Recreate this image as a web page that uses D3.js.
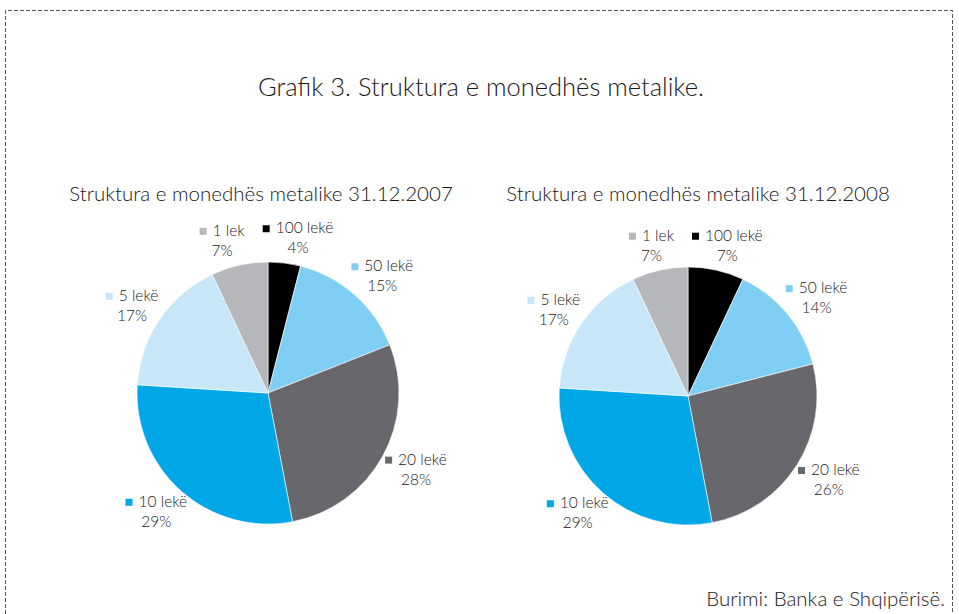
<!DOCTYPE html>
<meta charset="utf-8">
<style>
body { margin: 0; background: #fff; }
text { font-family: "Futura", "Century Gothic", Lato, sans-serif; font-weight: 300; fill: #1a1718; }
</style>
<svg id="chart" width="959" height="614"></svg>
<script src="https://cdn.jsdelivr.net/npm/d3@7"></script>
<script>
// data
var categories = ["100 lekë", "50 lekë", "20 lekë", "10 lekë", "5 lekë", "1 lek"];
var values2007 = [4, 15, 28, 29, 17, 7];
var values2008 = [7, 14, 26, 29, 17, 7];
var subtitles = ["Struktura e monedhës metalike 31.12.2007", "Struktura e monedhës metalike 31.12.2008"];
var colors = ["#000000", "#7fcff4", "#68676c", "#00a7e7", "#c7e7f8", "#b6b7ba"];

var svg = d3.select("#chart");

// dashed frame, bottom runs off the page
svg.append("path")
  .attr("d", "M5.5,620 V10.5 H952.5 V620")
  .attr("fill", "none")
  .attr("stroke", "#555")
  .attr("stroke-width", 1)
  .attr("stroke-dasharray", "4,2");

svg.append("text")
  .attr("x", 481).attr("y", 96)
  .attr("text-anchor", "middle")
  .style("font-size", "25.5px")
  .text("Grafik 3. Struktura e monedhës metalike.");

svg.append("text")
  .attr("x", 945).attr("y", 606)
  .attr("text-anchor", "end")
  .style("font-size", "20.5px")
  .text("Burimi: Banka e Shqipërisë.");

var color = d3.scaleOrdinal().domain(categories).range(colors);
var pie = d3.pie().sort(null).value(function(d){ return d.value; });

var panels = [
  { values: values2007, cx: 268, cy: 393, r: 131, title: subtitles[0], tx: 261 },
  { values: values2008, cx: 688, cy: 396, r: 129, title: subtitles[1], tx: 698 }
];

panels.forEach(function(p){
  svg.append("text")
    .attr("x", p.tx).attr("y", 201)
    .attr("text-anchor", "middle")
    .style("font-size", "20.5px")
    .text(p.title);

  var data = categories.map(function(c, i){ return { name: c, value: p.values[i] }; });
  var arcs = pie(data);
  var arc = d3.arc().innerRadius(0).outerRadius(p.r);

  var g = svg.append("g").attr("transform", "translate(" + p.cx + "," + p.cy + ")");

  g.selectAll("path")
    .data(arcs)
    .enter().append("path")
    .attr("d", arc)
    .attr("fill", function(d){ return color(d.data.name); })
    .attr("stroke", "#fff")
    .attr("stroke-width", 0.6);

  var total = d3.sum(p.values);

  // build labels, measure, then place outside the slice
  var labels = arcs.map(function(d){
    var lab = g.append("g");
    var t1 = lab.append("text").style("font-size", "15.5px").text(d.data.name);
    var t2 = lab.append("text").style("font-size", "15.5px").attr("text-anchor", "middle")
      .text(Math.round(d.data.value / total * 100) + "%");
    var w1 = t1.node().getComputedTextLength() + 13;
    var w2 = t2.node().getComputedTextLength();
    var w = Math.max(w1, w2), h = 38;
    var a = (d.startAngle + d.endAngle) / 2;
    var ux = Math.sin(a), uy = -Math.cos(a);
    var gap = 7;
    return {
      d: d, lab: lab, t1: t1, t2: t2, w1: w1, w: w, h: h,
      x: (p.r + gap) * ux + w / 2 * ux,
      y: (p.r + gap) * uy + h / 2 * uy
    };
  });

  // push overlapping labels apart sideways
  for (var k = 0; k < 30; k++) {
    for (var i = 0; i < labels.length; i++) {
      for (var j = i + 1; j < labels.length; j++) {
        var A = labels[i], B = labels[j];
        var ox = (A.w + B.w) / 2 + 18 - Math.abs(A.x - B.x);
        var oy = (A.h + B.h) / 2 - Math.abs(A.y - B.y);
        if (ox > 0 && oy > 0) {
          var s = A.x < B.x ? -1 : 1;
          A.x += s * ox / 2;
          B.x -= s * ox / 2;
        }
      }
    }
  }

  labels.forEach(function(L){
    L.lab.append("rect")
      .attr("x", L.x - L.w1 / 2).attr("y", L.y - 12)
      .attr("width", 7).attr("height", 7)
      .attr("fill", color(L.d.data.name));
    L.t1.attr("x", L.x - L.w1 / 2 + 13).attr("y", L.y - 4);
    L.t2.attr("x", L.x).attr("y", L.y + 16);
  });
});
</script>
